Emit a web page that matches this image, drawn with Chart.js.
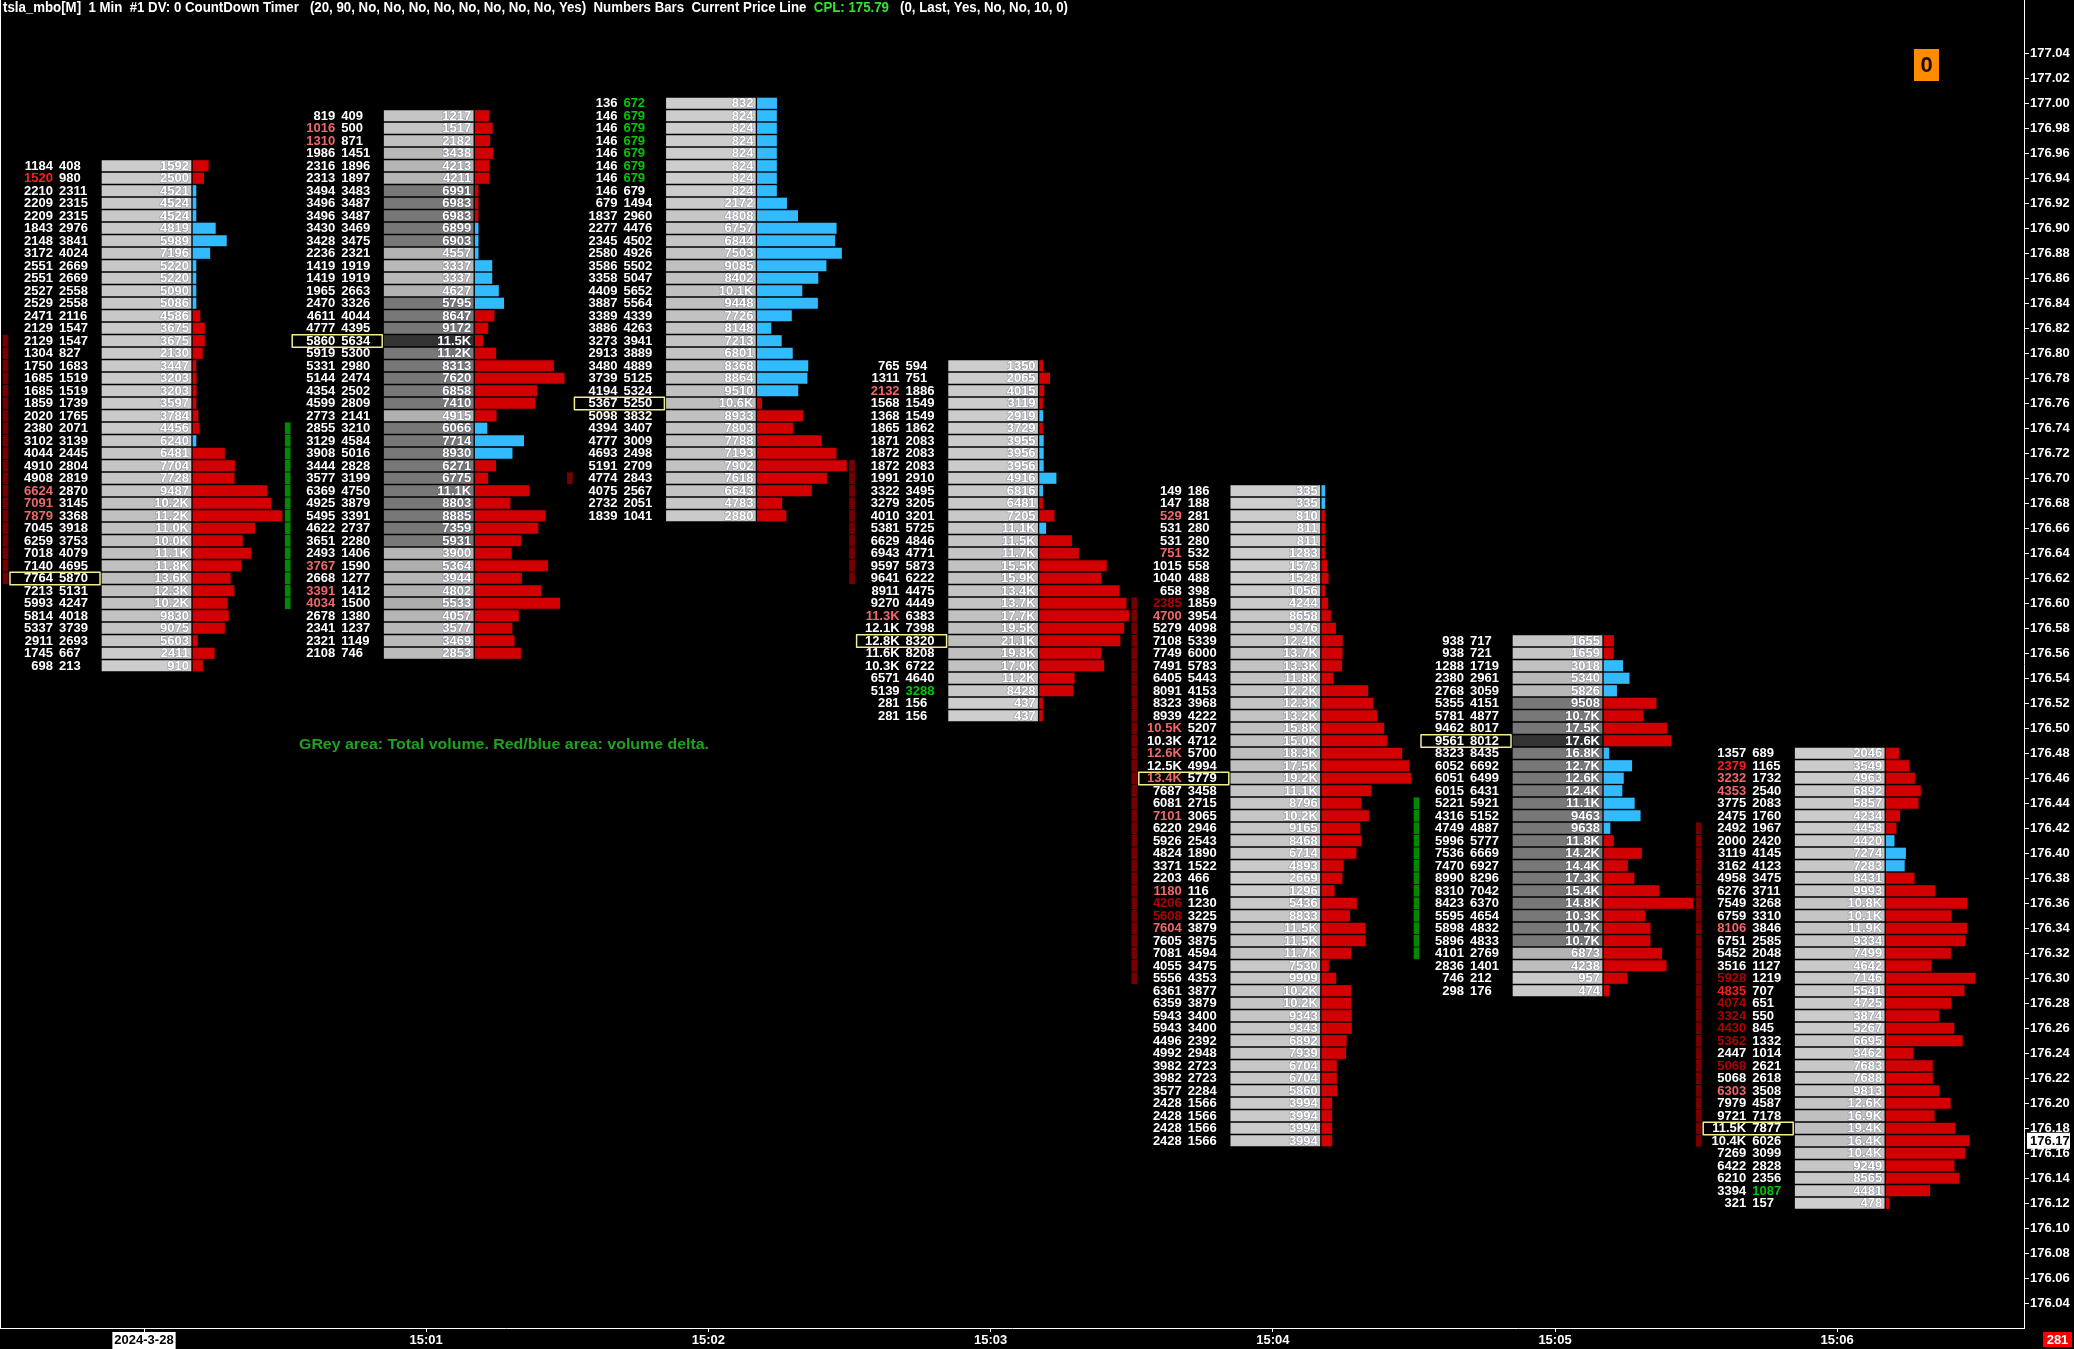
<!DOCTYPE html>
<html lang="en">
<head>
<meta charset="UTF-8" />
<title>tsla_mbo 1 Min footprint</title>
<script src="https://cdn.jsdelivr.net/npm/chart.js"></script>
<style>
  html, body { margin: 0; padding: 0; background: #000; overflow: hidden; }
  #chart { display: block; }
</style>
</head>
<body>
<canvas id="chart" width="2074" height="1349"></canvas>
<script>
  // one column per 1-minute bar, rows are 0.01 price levels from the top price down
  const timeLabels = ['2024-3-28', '15:01', '15:02', '15:03', '15:04', '15:05', '15:06'];
  const topPrice = [176.95, 176.99, 177.00, 176.79, 176.69, 176.57, 176.48];

  const bid1500 = [1184,1520,2210,2209,2209,1843,2148,3172,2551,2551,2527,2529,2471,2129,2129,1304,1750,1685,1685,1859,2020,2380,3102,4044,4910,4908,6624,7091,7879,7045,6259,7018,7140,7764,7213,5993,5814,5337,2911,1745,698];
  const ask1500 = [408,980,2311,2315,2315,2976,3841,4024,2669,2669,2558,2558,2116,1547,1547,827,1683,1519,1519,1739,1765,2071,3139,2445,2804,2819,2870,3145,3368,3918,3753,4079,4695,5870,5131,4247,4018,3739,2693,667,213];
  const vol1500 = [1592,2500,4521,4524,4524,4819,5989,7196,5220,5220,5090,5086,4586,3675,3675,2130,3447,3203,3203,3597,3784,4456,6240,6481,7704,7728,9487,10200,11200,11000,10000,11100,11800,13600,12300,10200,9830,9075,5603,2411,910];

  const bid1501 = [819,1016,1310,1986,2316,2313,3494,3496,3496,3430,3428,2236,1419,1419,1965,2470,4611,4777,5860,5919,5331,5144,4354,4599,2773,2855,3129,3908,3444,3577,6369,4925,5495,4622,3651,2493,3767,2668,3391,4034,2678,2341,2321,2108];
  const ask1501 = [409,500,871,1451,1896,1897,3483,3487,3487,3469,3475,2321,1919,1919,2663,3326,4044,4395,5634,5300,2980,2474,2502,2809,2141,3210,4584,5016,2828,3199,4750,3879,3391,2737,2280,1406,1590,1277,1412,1500,1380,1237,1149,746];
  const vol1501 = [1217,1517,2182,3438,4213,4211,6991,6983,6983,6899,6903,4557,3337,3337,4627,5795,8647,9172,11500,11200,8313,7620,6858,7410,4915,6066,7714,8930,6271,6775,11100,8803,8885,7359,5931,3900,5364,3944,4802,5533,4057,3577,3469,2853];

  const bid1502 = [136,146,146,146,146,146,146,146,679,1837,2277,2345,2580,3586,3358,4409,3887,3389,3886,3273,2913,3480,3739,4194,5367,5098,4394,4777,4693,5191,4774,4075,2732,1839];
  const ask1502 = [672,679,679,679,679,679,679,679,1494,2960,4476,4502,4926,5502,5047,5652,5564,4339,4263,3941,3889,4889,5125,5324,5250,3832,3407,3009,2498,2709,2843,2567,2051,1041];
  const vol1502 = [832,824,824,824,824,824,824,824,2172,4808,6757,6844,7503,9085,8402,10100,9448,7726,8148,7213,6801,8368,8864,9510,10600,8933,7803,7788,7193,7902,7618,6643,4783,2880];

  const bid1503 = [765,1311,2132,1568,1368,1865,1871,1872,1872,1991,3322,3279,4010,5381,6629,6943,9597,9641,8911,9270,11340,12090,12800,11620,10300,6571,5139,281,281];
  const ask1503 = [594,751,1886,1549,1549,1862,2083,2083,2083,2910,3495,3205,3201,5725,4846,4771,5873,6222,4475,4449,6383,7398,8320,8208,6722,4640,3288,156,156];
  const vol1503 = [1350,2065,4015,3119,2919,3729,3955,3956,3956,4916,6816,6481,7205,11100,11500,11700,15500,15900,13400,13700,17700,19500,21100,19800,17000,11200,8428,437,437];

  const bid1504 = [149,147,529,531,531,751,1015,1040,658,2385,4700,5279,7108,7749,7491,6405,8091,8323,8939,10520,10280,12550,12460,13400,7687,6081,7101,6220,5926,4824,3371,2203,1180,4206,5608,7604,7605,7081,4055,5556,6361,6359,5943,5943,4496,4992,3982,3982,3577,2428,2428,2428,2428];
  const ask1504 = [186,188,281,280,280,532,558,488,398,1859,3954,4098,5339,6000,5783,5443,4153,3968,4222,5207,4712,5700,4994,5779,3458,2715,3065,2946,2543,1890,1522,466,116,1230,3225,3879,3875,4594,3475,4353,3877,3879,3400,3400,2392,2948,2723,2723,2284,1566,1566,1566,1566];
  const vol1504 = [335,335,810,811,811,1283,1573,1528,1056,4244,8658,9376,12400,13700,13300,11800,12200,12300,13200,15800,15000,18300,17500,19200,11100,8796,10200,9165,8468,6714,4893,2669,1296,5436,8833,11500,11500,11700,7530,9909,10200,10200,9343,9343,6892,7939,6704,6704,5860,3994,3994,3994,3994];

  const bid1505 = [938,938,1288,2380,2768,5355,5781,9462,9561,8323,6052,6051,6015,5221,4316,4749,5996,7536,7470,8990,8310,8423,5595,5898,5896,4101,2836,746,298];
  const ask1505 = [717,721,1719,2961,3059,4151,4877,8017,8012,8435,6692,6499,6431,5921,5152,4887,5777,6669,6927,8296,7042,6370,4654,4832,4833,2769,1401,212,176];
  const vol1505 = [1655,1659,3018,5340,5826,9508,10700,17500,17600,16800,12700,12600,12400,11100,9463,9638,11800,14200,14400,17300,15400,14800,10300,10700,10700,6873,4238,957,474];

  const bid1506 = [1357,2379,3232,4353,3775,2475,2492,2000,3119,3162,4958,6276,7549,6759,8106,6751,5452,3516,5928,4835,4074,3324,4430,5362,2447,5068,5068,6303,7979,9721,11520,10420,7269,6422,6210,3394,321];
  const ask1506 = [689,1165,1732,2540,2083,1760,1967,2420,4145,4123,3475,3711,3268,3310,3846,2585,2048,1127,1219,707,651,550,845,1332,1014,2621,2618,3508,4587,7178,7877,6026,3099,2828,2356,1087,157];
  const vol1506 = [2046,3549,4963,6892,5857,4234,4458,4420,7274,7283,8431,9993,10800,10100,11900,9334,7499,4642,7146,5541,4725,3874,5267,6695,3462,7683,7688,9813,12600,16900,19400,16400,10400,9249,8565,4481,478];

  // stacked imbalance zones shown left of each bar
  const zoneBar  = [0, 1, 2, 3, 4, 5, 6];
  const zoneHi   = [176.81, 176.74, 176.70, 176.71, 176.60, 176.44, 176.42];
  const zoneLo   = [176.62, 176.60, 176.70, 176.62, 176.30, 176.32, 176.17];
  const zoneSide = ['sell', 'buy', 'sell', 'sell', 'sell', 'buy', 'sell'];

  // highlighted numbers: [bar, price, kind]
  const bidFlags = [
    [0,176.94,'strong'],[0,176.69,'imb'],[0,176.68,'imb'],[0,176.67,'imb'],
    [1,176.98,'imb'],[1,176.97,'imb'],[1,176.63,'imb'],[1,176.61,'imb'],[1,176.60,'imb'],
    [3,176.77,'imb'],[3,176.59,'imb'],
    [4,176.67,'imb'],[4,176.64,'imb'],[4,176.60,'stack'],[4,176.59,'imb'],[4,176.50,'imb'],[4,176.48,'imb'],
    [4,176.46,'imb'],[4,176.43,'imb'],[4,176.37,'imb'],[4,176.36,'stack'],[4,176.35,'stack'],[4,176.34,'imb'],
    [6,176.47,'strong'],[6,176.46,'imb'],[6,176.45,'imb'],[6,176.34,'imb'],[6,176.30,'stack'],[6,176.29,'strong'],
    [6,176.28,'stack'],[6,176.27,'stack'],[6,176.26,'stack'],[6,176.25,'stack'],[6,176.23,'stack'],[6,176.21,'imb']
  ];
  const askFlags = [
    [2,177.00,'imb'],[2,176.99,'imb'],[2,176.98,'imb'],[2,176.97,'imb'],[2,176.96,'imb'],[2,176.95,'imb'],[2,176.94,'imb'],
    [3,176.53,'imb'],[6,176.13,'imb']
  ];

  const priceTicks = [176.04,176.06,176.08,176.10,176.12,176.14,176.16,176.18,176.20,176.22,176.24,176.26,176.28,
    176.30,176.32,176.34,176.36,176.38,176.40,176.42,176.44,176.46,176.48,176.50,176.52,176.54,176.56,176.58,
    176.60,176.62,176.64,176.66,176.68,176.70,176.72,176.74,176.76,176.78,176.80,176.82,176.84,176.86,176.88,
    176.90,176.92,176.94,176.96,176.98,177.00,177.02,177.04];

  const currentPrice = 176.17;
  const countdown = '281';
  const titleParts = [
    ['tsla_mbo[M]  1 Min  #1 DV: 0 CountDown Timer   (20, 90, No, No, No, No, No, No, No, No, Yes)  Numbers Bars  Current Price Line  ', '#ffffff'],
    ['CPL: 175.79', '#2ee62e'],
    ['   (0, Last, Yes, No, No, 10, 0)', '#ffffff']
  ];
  const noteText = 'GRey area: Total volume. Red/blue area: volume delta.';

  const bids = [bid1500, bid1501, bid1502, bid1503, bid1504, bid1505, bid1506];
  const asks = [ask1500, ask1501, ask1502, ask1503, ask1504, ask1505, ask1506];
  const vols = [vol1500, vol1501, vol1502, vol1503, vol1504, vol1505, vol1506];
  const shadedBars = [1, 5]; // bars whose high volume cells are shaded darker

  const PX_MIN = 282.2;              // pixels per minute on the x scale
  const px = v => v / PX_MIN;
  const cents = p => Math.round(p * 100);
  const rowPrice = (m, i) => (cents(topPrice[m]) - i) / 100;
  const fmt = v => v >= 10000 ? (v / 1000).toFixed(1) + 'K' : String(v);

  const flagColor = { imb: '#f06868', strong: '#ff1c1c', stack: '#b00000' };
  const bidFlagMap = {}, askFlagMap = {};
  bidFlags.forEach(f => { bidFlagMap[f[0] + ':' + cents(f[1])] = flagColor[f[2]]; });
  askFlags.forEach(f => { askFlagMap[f[0] + ':' + cents(f[1])] = '#00c800'; });

  function cellShade(m, v, maxVol) {
    let g;
    if (shadedBars.includes(m)) {
      if (v === maxVol) return '#333333';
      if (v >= maxVol / 2) return '#787878';
      g = Math.round(204 - 32 * v / (maxVol / 2));
    } else {
      g = Math.round(206 - 16 * v / maxVol);
    }
    return `rgb(${g},${g},${g})`;
  }

  const grayData = [], grayColors = [], deltaData = [], deltaColors = [];
  const zoneData = [], zoneColors = [];
  const pocRow = [];

  bids.forEach((b, m) => {
    const a = asks[m], v = vols[m];
    const maxVol = Math.max(...v);
    pocRow.push(v.indexOf(maxVol));
    const maxDelta = Math.max(...b.map((x, i) => Math.abs(a[i] - x)));
    b.forEach((bid, i) => {
      const y = rowPrice(m, i);
      grayData.push({ x: [m + px(-42), m + px(47)], y: y });
      grayColors.push(cellShade(m, v[i], maxVol));
      const d = a[i] - bid;
      const w = Math.max(px(3), Math.abs(d) / maxDelta * px(89));
      deltaData.push({ x: [m + px(49), m + px(49) + w], y: y });
      deltaColors.push(d >= 0 ? '#33bbff' : '#d20000');
    });
  });

  zoneBar.forEach((m, k) => {
    for (let c = cents(zoneLo[k]); c <= cents(zoneHi[k]); c++) {
      zoneData.push({ x: [m + px(-141), m + px(-136)], y: c / 100 });
      zoneColors.push(zoneSide[k] === 'buy' ? '#008a00' : '#760000');
    }
  });

  const FONT = 'bold 13px "Liberation Sans", Arial, sans-serif';

  const footprint = {
    id: 'footprint',
    afterDatasetsDraw(chart) {
      const c = chart.ctx, xs = chart.scales.x, ys = chart.scales.y;
      c.save();
      c.font = FONT;
      c.textBaseline = 'middle';
      c.lineJoin = 'round';
      bids.forEach((b, m) => {
        const xc = xs.getPixelForValue(m);
        b.forEach((bid, i) => {
          const p = rowPrice(m, i);
          const y = ys.getPixelForValue(p) + 0.5;
          const key = m + ':' + cents(p);
          c.textAlign = 'right';
          c.fillStyle = bidFlagMap[key] || '#ffffff';
          c.fillText(fmt(bid), xc - 91, y);
          c.textAlign = 'left';
          c.fillStyle = askFlagMap[key] || '#ffffff';
          c.fillText(fmt(asks[m][i]), xc - 85, y);
          // total volume: white with a faint dark edge so it reads on grey
          c.textAlign = 'right';
          c.strokeStyle = 'rgba(30,40,70,0.35)';
          c.lineWidth = 1.2;
          c.strokeText(fmt(vols[m][i]), xc + 45, y);
          c.fillStyle = '#ffffff';
          c.fillText(fmt(vols[m][i]), xc + 45, y);
        });
        // point of control box round the bid/ask numbers
        const py = ys.getPixelForValue(rowPrice(m, pocRow[m]));
        c.strokeStyle = '#f2ee8a';
        c.lineWidth = 1.5;
        c.strokeRect(xc - 134, py - 6, 90, 12.5);
      });
      c.restore();
    },
    afterDraw(chart) {
      const c = chart.ctx, ys = chart.scales.y, area = chart.chartArea;
      c.save();
      // left border
      c.strokeStyle = '#ffffff';
      c.lineWidth = 1;
      c.beginPath();
      c.moveTo(0.5, 0);
      c.lineTo(0.5, area.bottom);
      c.stroke();

      // title line
      c.font = 'bold 14px "Liberation Sans", Arial, sans-serif';
      c.textBaseline = 'middle';
      c.textAlign = 'left';
      const full = titleParts.map(t => t[0]).join('');
      const k = 1065 / c.measureText(full).width;
      c.save();
      c.translate(3, 8);
      c.scale(k, 1);
      let tx = 0;
      titleParts.forEach(t => {
        c.fillStyle = t[1];
        c.fillText(t[0], tx, 0);
        tx += c.measureText(t[0]).width;
      });
      c.restore();

      // note
      c.font = 'bold 15px "Liberation Sans", Arial, sans-serif';
      const kn = 410 / c.measureText(noteText).width;
      c.save();
      c.translate(299, 745);
      c.scale(kn, 1);
      c.fillStyle = '#22a022';
      c.fillText(noteText, 0, 0);
      c.restore();

      // orange counter box
      c.fillStyle = '#ff8c00';
      c.fillRect(1914, 49, 25, 32);
      c.fillStyle = '#1a0a00';
      c.font = 'bold 22px "Liberation Sans", Arial, sans-serif';
      c.textAlign = 'center';
      c.fillText('0', 1926.5, 66);

      // current price marker on the axis
      const cy = ys.getPixelForValue(currentPrice);
      c.fillStyle = '#ffffff';
      c.fillRect(2027, cy - 8, 43, 16);
      c.fillStyle = '#000000';
      c.font = FONT;
      c.textAlign = 'left';
      c.fillText(currentPrice.toFixed(2), 2030, cy + 0.5);

      // countdown box bottom right
      c.fillStyle = '#ff0000';
      c.fillRect(2043, 1332, 29, 15);
      c.fillStyle = '#ffffff';
      c.textAlign = 'center';
      c.fillText(countdown, 2057.5, 1340);
      c.restore();
    }
  };

  const ctx = document.getElementById('chart').getContext('2d');
  new Chart(ctx, {
    type: 'bar',
    data: {
      datasets: [
        { data: zoneData, backgroundColor: zoneColors, barThickness: 11, grouped: false, borderWidth: 0 },
        { data: grayData, backgroundColor: grayColors, barThickness: 10.5, grouped: false, borderWidth: 0 },
        { data: deltaData, backgroundColor: deltaColors, barThickness: 10.5, grouped: false, borderWidth: 0 }
      ]
    },
    options: {
      indexAxis: 'y',
      responsive: false,
      devicePixelRatio: 1,
      animation: false,
      events: [],
      layout: { padding: 0 },
      plugins: { legend: { display: false }, tooltip: { enabled: false } },
      scales: {
        x: {
          type: 'linear',
          min: -144 / PX_MIN,
          max: (2024 - 144) / PX_MIN,
          offset: false,
          afterBuildTicks: s => { s.ticks = timeLabels.map((_, i) => ({ value: i })); },
          afterFit: s => { s.height = 21; s.paddingLeft = 0; s.paddingRight = 0; },
          grid: { display: true, drawOnChartArea: false, drawTicks: true, tickLength: 4, color: '#ffffff', offset: false },
          border: { display: true, color: '#ffffff', width: 1 },
          ticks: {
            autoSkip: false,
            maxRotation: 0,
            padding: 1,
            font: { family: '"Liberation Sans", Arial, sans-serif', size: 13, weight: 'bold' },
            color: c => c.index === 0 ? '#000000' : '#ffffff',
            showLabelBackdrop: c => c.index === 0,
            backdropColor: '#ffffff',
            backdropPadding: { top: 1, bottom: 1, left: 2, right: 2 },
            callback: (v, i) => timeLabels[i]
          }
        },
        y: {
          type: 'linear',
          position: 'right',
          min: 176.0202,
          max: 177.0826,
          offset: false,
          afterBuildTicks: s => { s.ticks = priceTicks.map(v => ({ value: v })); },
          afterFit: s => { s.width = 50; s.paddingTop = 0; s.paddingBottom = 0; },
          grid: { display: true, drawOnChartArea: false, drawTicks: true, tickLength: 5, color: '#ffffff', offset: false },
          border: { display: true, color: '#ffffff', width: 1 },
          ticks: {
            autoSkip: false,
            padding: 1,
            font: { family: '"Liberation Sans", Arial, sans-serif', size: 13, weight: 'bold' },
            color: '#ffffff',
            callback: v => Number(v).toFixed(2)
          }
        }
      }
    },
    plugins: [footprint]
  });
</script>
</body>
</html>
